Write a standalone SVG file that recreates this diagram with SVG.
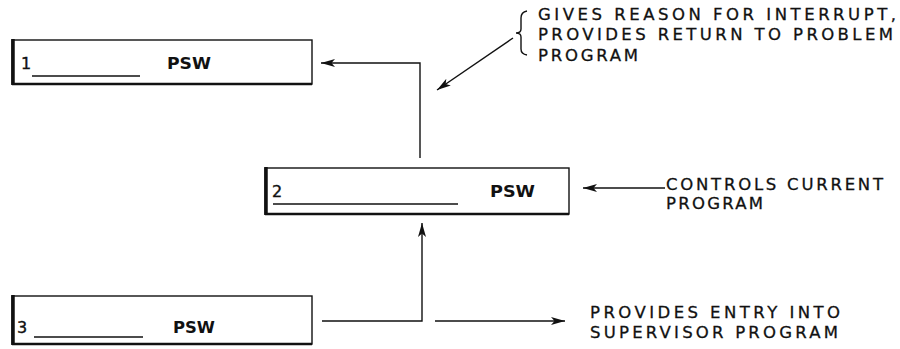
<svg xmlns="http://www.w3.org/2000/svg" width="900" height="349" viewBox="0 0 900 349">
<defs>
<marker id="ah" markerUnits="userSpaceOnUse" markerWidth="16" markerHeight="10" refX="14" refY="5" orient="auto">
<path d="M0,1 L14,5 L0,9 L3.5,5 Z" fill="#111"/>
</marker>
<style>
.box{fill:#fff;stroke:#111;stroke-width:1.4}
.edge{stroke:#111;fill:none}
.con{stroke:#111;stroke-width:1.4;fill:none}
.lbl{font-family:"DejaVu Sans","Liberation Sans",sans-serif;font-size:16.5px;fill:#111;stroke:#111;stroke-width:0.3}
.bt{font-family:"DejaVu Sans","Liberation Sans",sans-serif;font-size:15.5px;font-weight:bold;fill:#111}
.num{font-family:"DejaVu Sans","Liberation Sans",sans-serif;font-size:16px;fill:#111;stroke:#111;stroke-width:0.4}
.ul{stroke:#111;stroke-width:1.5}
</style>
</defs>
<rect width="900" height="349" fill="#fff"/>

<g id="psw1">
<rect class="box" x="12" y="40" width="300" height="44"/>
<path class="edge" d="M13,39 V85" stroke-width="3.5"/>
<path class="edge" d="M12,84 H312" stroke-width="2.5"/>
<text class="num" x="21" y="69">1</text>
<line class="ul" x1="32" y1="76" x2="140" y2="76"/>
<text class="bt" x="167" y="69" textLength="44" lengthAdjust="spacingAndGlyphs">PSW</text>
</g>

<g id="psw2">
<rect class="box" x="265" y="168" width="304" height="46"/>
<path class="edge" d="M266,167 V215" stroke-width="3.5"/>
<path class="edge" d="M265,214 H569" stroke-width="2.5"/>
<text class="num" x="272" y="197">2</text>
<line class="ul" x1="273" y1="204" x2="458" y2="204"/>
<text class="bt" x="490" y="197" textLength="45" lengthAdjust="spacingAndGlyphs">PSW</text>
</g>

<g id="psw3">
<rect class="box" x="12" y="296" width="300" height="48"/>
<path class="edge" d="M13,295 V345" stroke-width="3.5"/>
<path class="edge" d="M12,344 H312" stroke-width="2.5"/>
<text class="num" x="17" y="333">3</text>
<line class="ul" x1="34" y1="337" x2="143" y2="337"/>
<text class="bt" x="173" y="333" textLength="42" lengthAdjust="spacingAndGlyphs">PSW</text>
</g>

<g id="note-top">
<path class="con" d="M527,11 Q521,12 521,18 V29 Q521,33 516,33 Q521,33 521,37 V49 Q521,54 527,55" stroke-width="1.1"/>
<text class="lbl" x="538" y="20" textLength="358" lengthAdjust="spacing">GIVES REASON FOR INTERRUPT,</text>
<text class="lbl" x="538" y="40" textLength="355" lengthAdjust="spacing">PROVIDES RETURN TO PROBLEM</text>
<text class="lbl" x="538" y="60.5" textLength="100" lengthAdjust="spacing">PROGRAM</text>
</g>

<g id="note-mid">
<text class="lbl" x="666" y="190" textLength="217" lengthAdjust="spacing">CONTROLS CURRENT</text>
<text class="lbl" x="666" y="209" textLength="97" lengthAdjust="spacing">PROGRAM</text>
</g>

<g id="note-bot">
<text class="lbl" x="590" y="318" textLength="250" lengthAdjust="spacing">PROVIDES ENTRY INTO</text>
<text class="lbl" x="590" y="338" textLength="248" lengthAdjust="spacing">SUPERVISOR PROGRAM</text>
</g>

<g id="connectors">
<path class="con" d="M420,158 V63 H321" marker-end="url(#ah)"/>
<path class="con" d="M513,38 L437,90" marker-end="url(#ah)"/>
<path class="con" d="M665,188 H583" marker-end="url(#ah)"/>
<path class="con" d="M322,321 H422 V223" marker-end="url(#ah)"/>
<path class="con" d="M435,321 H565" marker-end="url(#ah)"/>
</g>
</svg>
